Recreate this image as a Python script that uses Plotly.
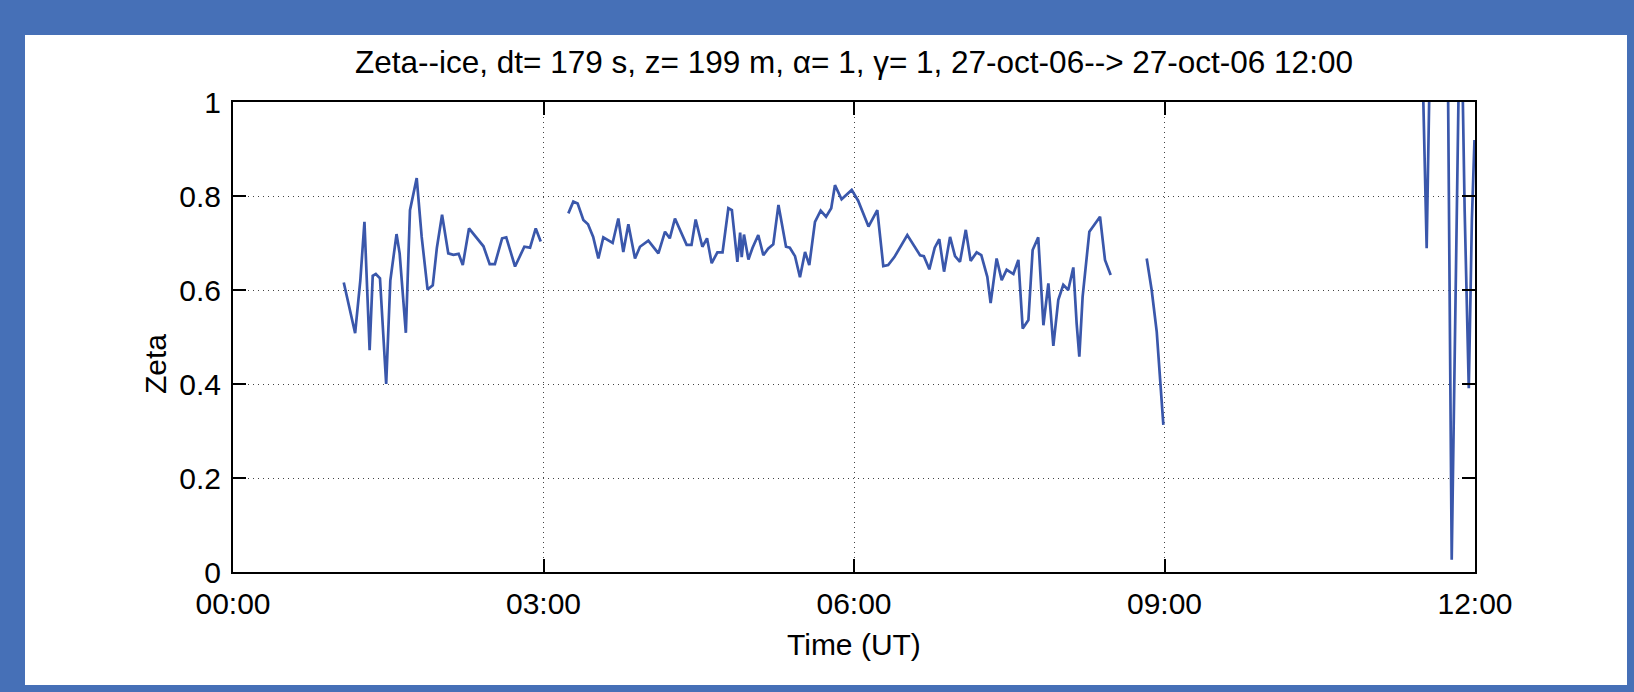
import plotly.graph_objects as go
import pandas as pd

# ---- data (hours after 27-oct-06 00:00 UT, Zeta values) ----
seg1_h = [1.07, 1.13, 1.18, 1.23, 1.27, 1.32, 1.35, 1.38, 1.42, 1.48, 1.52, 1.58, 1.61, 1.67, 1.71,
          1.775, 1.823, 1.88, 1.93, 1.97, 2.02, 2.08, 2.13, 2.18, 2.22, 2.28, 2.35, 2.42, 2.48, 2.53,
          2.60, 2.64, 2.725, 2.77, 2.815, 2.87, 2.925, 2.973]
seg1_v = [0.616, 0.56, 0.508, 0.62, 0.745, 0.472, 0.63, 0.634, 0.625, 0.40, 0.62, 0.719, 0.678, 0.509, 0.77,
          0.838, 0.713, 0.601, 0.61, 0.69, 0.76, 0.678, 0.675, 0.677, 0.653, 0.731, 0.712, 0.693, 0.655, 0.655,
          0.71, 0.712, 0.65, 0.67, 0.692, 0.69, 0.731, 0.703]

seg2_h = [3.24, 3.288, 3.33, 3.385, 3.43, 3.48, 3.53, 3.578, 3.668, 3.723, 3.771, 3.82, 3.884, 3.932,
          4.013, 4.11, 4.174, 4.22, 4.27, 4.383, 4.43, 4.47, 4.535, 4.58, 4.625, 4.68, 4.73, 4.786,
          4.82, 4.873, 4.90, 4.915, 4.937, 4.98, 5.02, 5.075, 5.124, 5.17, 5.22, 5.27, 5.29, 5.343,
          5.38, 5.43, 5.478, 5.527, 5.568, 5.623, 5.678, 5.73, 5.78, 5.816, 5.88, 5.978, 6.04, 6.14,
          6.225, 6.26, 6.283, 6.33, 6.39, 6.515, 6.638, 6.675, 6.728, 6.78, 6.824, 6.87, 6.928, 6.976,
          7.024, 7.08, 7.127, 7.185, 7.23, 7.288, 7.32, 7.378, 7.427, 7.475, 7.54, 7.588, 7.63, 7.685,
          7.726, 7.78, 7.83, 7.878, 7.926, 7.974, 8.022, 8.07, 8.119, 8.151, 8.177, 8.209, 8.274, 8.377,
          8.425, 8.48]
seg2_v = [0.763, 0.788, 0.784, 0.749, 0.74, 0.713, 0.667, 0.712, 0.70, 0.752, 0.681, 0.740, 0.667, 0.692,
          0.705, 0.678, 0.724, 0.71, 0.752, 0.696, 0.696, 0.75, 0.692, 0.71, 0.657, 0.68, 0.68, 0.774,
          0.77, 0.66, 0.722, 0.67, 0.718, 0.665, 0.69, 0.717, 0.674, 0.688, 0.697, 0.781, 0.757, 0.692,
          0.69, 0.672, 0.627, 0.681, 0.653, 0.745, 0.769, 0.756, 0.774, 0.823, 0.793, 0.813, 0.79, 0.735,
          0.77, 0.693, 0.651, 0.653, 0.67, 0.717, 0.674, 0.672, 0.644, 0.69, 0.708, 0.639, 0.713, 0.672,
          0.66, 0.728, 0.662, 0.68, 0.674, 0.628, 0.572, 0.667, 0.621, 0.643, 0.634, 0.664, 0.518, 0.536,
          0.685, 0.712, 0.525, 0.614, 0.481, 0.579, 0.611, 0.60, 0.648, 0.529, 0.458, 0.586, 0.724, 0.756,
          0.664, 0.632]

seg3_h = [8.828, 8.876, 8.925, 8.957, 8.989]
seg3_v = [0.667, 0.60, 0.511, 0.401, 0.313]

seg4_h = [11.47, 11.533, 11.58, 11.73, 11.775, 11.80, 11.83, 11.86, 11.90, 11.94, 11.97, 11.995]
seg4_v = [1.30, 0.689, 1.30, 1.30, 0.026, 0.40, 0.80, 1.30, 0.77, 0.391, 0.75, 0.919]

x_ticks_h = [0, 3, 6, 9, 12]
y_ticks = [0, 0.2, 0.4, 0.6, 0.8, 1]
y_ticktext = ["0", "0.2", "0.4", "0.6", "0.8", "1"]

title_text = "Zeta--ice, dt= 179 s, z= 199 m, α= 1, γ= 1, 27-oct-06--> 27-oct-06 12:00"
xlabel = "Time (UT)"
ylabel = "Zeta"

# ---- build series with gaps ----
base = pd.Timestamp("2006-10-27 00:00")
def to_t(h):
    return base + pd.to_timedelta(h, unit="h")

xs, ys = [], []
for hh, vv in [(seg1_h, seg1_v), (seg2_h, seg2_v), (seg3_h, seg3_v), (seg4_h, seg4_v)]:
    xs += [to_t(h) for h in hh] + [None]
    ys += list(vv) + [None]

FONT = "Liberation Sans, Arial, Helvetica, sans-serif"
BLUE_BG = "#4670b7"
LINE = "#3a57ab"

W, H = 1634, 692
L, R, T, B = 233, 1475, 102, 572
pw, ph = R - L, B - T

fig = go.Figure()
fig.add_trace(go.Scatter(x=xs, y=ys, mode="lines", connectgaps=False,
                         line=dict(color=LINE, width=2.7), hoverinfo="skip", showlegend=False))

# white panel
fig.add_shape(type="rect", xref="paper", yref="paper",
              x0=(25 - L) / pw, x1=(1627 - L) / pw,
              y0=(B - 685) / ph, y1=(B - 35) / ph,
              fillcolor="white", line=dict(width=0), layer="below")

axis_common = dict(showline=True, linecolor="black", linewidth=2, mirror="ticks",
                   ticks="inside", ticklen=13, tickwidth=2, tickcolor="black",
                   showgrid=True, gridcolor="#444444", gridwidth=1, griddash="1px,4px",
                   zeroline=False, tickfont=dict(family=FONT, size=30, color="black"))

fig.update_xaxes(type="date", range=[to_t(0), to_t(12)],
                 tickvals=[to_t(h) for h in x_ticks_h], tickformat="%H:%M",
                 ticklabelstandoff=4, **axis_common)
fig.update_yaxes(range=[0, 1], tickvals=y_ticks, ticktext=y_ticktext,
                 ticklabelstandoff=4, **axis_common)

fig.add_annotation(text=ylabel, xref="paper", yref="paper", x=(155 - L) / pw, y=(B - 364) / ph,
                   textangle=-90, showarrow=False, xanchor="center", yanchor="middle",
                   font=dict(family=FONT, size=30, color="black"))
fig.add_annotation(text=xlabel, xref="paper", yref="paper", x=0.5, y=(B - 644) / ph,
                   showarrow=False, xanchor="center", yanchor="middle",
                   font=dict(family=FONT, size=30, color="black"))

fig.update_layout(
    width=W, height=H,
    margin=dict(l=L, r=W - R, t=T, b=H - B, pad=0),
    paper_bgcolor=BLUE_BG, plot_bgcolor="white",
    title=dict(text=title_text, x=0.5, xref="paper", xanchor="center",
               y=1 - 62 / H, yref="container", yanchor="middle",
               font=dict(family=FONT, size=31.5, color="black")),
)

fig.write_html("out.html")
